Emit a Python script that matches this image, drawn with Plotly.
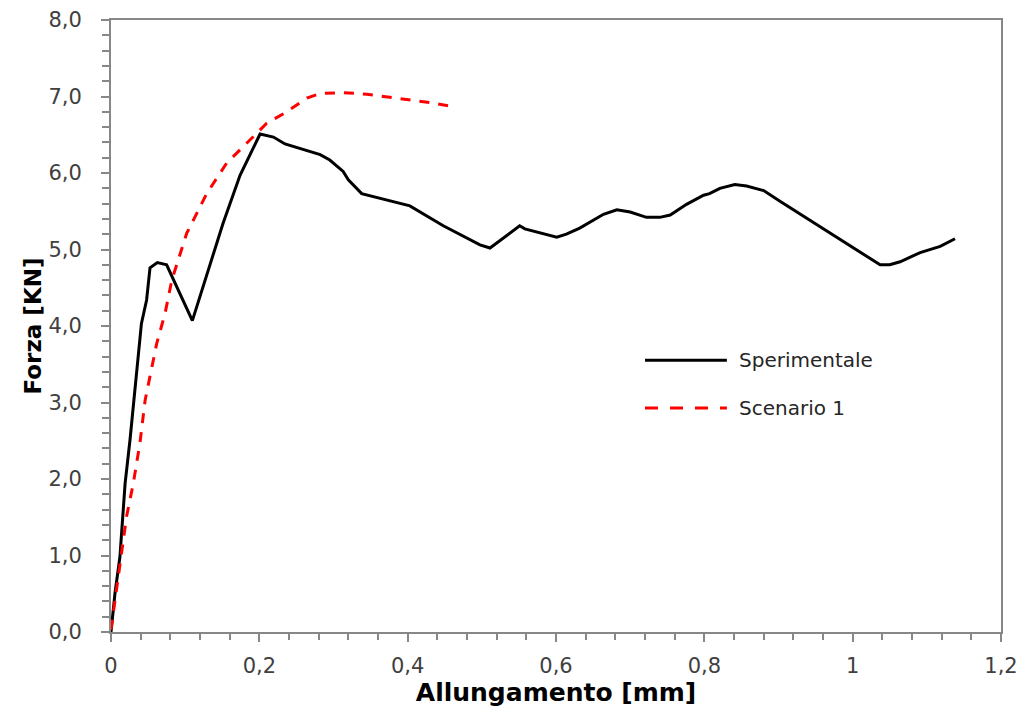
import plotly.graph_objects as go

# Sperimentale (experimental) curve
exp_x = [0.0, 0.0054, 0.012, 0.019, 0.0256, 0.030, 0.0346, 0.041, 0.048, 0.0526, 0.0625, 0.075,
         0.1097, 0.151, 0.174, 0.201, 0.219, 0.2346, 0.282, 0.295, 0.313, 0.320, 0.338, 0.403,
         0.448, 0.4975, 0.511, 0.551, 0.558, 0.601, 0.614, 0.632, 0.664, 0.682, 0.700, 0.722,
         0.740, 0.754, 0.776, 0.799, 0.807, 0.821, 0.841, 0.857, 0.880, 0.902, 1.037, 1.050,
         1.064, 1.091, 1.118, 1.138]
exp_y = [0.0, 0.51, 0.98, 1.94, 2.51, 2.95, 3.47, 4.03, 4.34, 4.76, 4.83, 4.80,
         4.07, 5.34, 5.97, 6.51, 6.47, 6.38, 6.24, 6.17, 6.02, 5.91, 5.73, 5.57,
         5.31, 5.06, 5.02, 5.31, 5.27, 5.16, 5.20, 5.28, 5.46, 5.52, 5.49, 5.42,
         5.42, 5.45, 5.59, 5.71, 5.73, 5.80, 5.85, 5.83, 5.77, 5.63, 4.80, 4.80,
         4.84, 4.96, 5.04, 5.14]

# Scenario 1 (model) curve
sc_x = [0.0, 0.012, 0.021, 0.030, 0.039, 0.046, 0.0526, 0.0616, 0.073, 0.082, 0.102, 0.129,
        0.156, 0.187, 0.21, 0.237, 0.264, 0.282, 0.313, 0.345, 0.376, 0.403, 0.43, 0.459]
sc_y = [0.03, 0.85, 1.51, 1.94, 2.47, 3.03, 3.34, 3.77, 4.17, 4.60, 5.21, 5.73,
        6.13, 6.43, 6.65, 6.80, 6.98, 7.04, 7.05, 7.03, 6.99, 6.96, 6.92, 6.87]

x_tickvals = [0, 0.2, 0.4, 0.6, 0.8, 1.0, 1.2]
x_ticktext = ["0", "0,2", "0,4", "0,6", "0,8", "1", "1,2"]
y_tickvals = [0, 1, 2, 3, 4, 5, 6, 7, 8]
y_ticktext = ["0,0", "1,0", "2,0", "3,0", "4,0", "5,0", "6,0", "7,0", "8,0"]

series_names = ["Sperimentale", "Scenario 1"]

FONT = "DejaVu Sans, Liberation Sans, Arial, sans-serif"
AXIS_COLOR = "#878787"
TICK_FONT_COLOR = "#404040"

fig = go.Figure()
fig.add_trace(go.Scatter(x=exp_x, y=exp_y, mode="lines", name=series_names[0],
                         line=dict(color="black", width=3), showlegend=False))
fig.add_trace(go.Scatter(x=sc_x, y=sc_y, mode="lines", name=series_names[1],
                         line=dict(color="#ff0000", width=3, dash="10px,9px"), showlegend=False))

axis_common = dict(
    showgrid=False, zeroline=False, showline=True, linecolor=AXIS_COLOR, linewidth=2,
    mirror=True, ticks="outside", tickcolor=AXIS_COLOR, tickwidth=2, ticklen=8,
    tickfont=dict(family=FONT, size=21, color=TICK_FONT_COLOR),
    automargin=False,
)

fig.update_xaxes(range=[0, 1.2], tickvals=x_tickvals, ticktext=x_ticktext,
                 minor=dict(dtick=0.04, tick0=0, ticks="outside", ticklen=6,
                            tickcolor=AXIS_COLOR, tickwidth=2),
                 title=dict(text="<b>Allungamento [mm]</b>", standoff=0,
                            font=dict(family=FONT, size=25, color="black")),
                 ticklabelstandoff=6,
                 **axis_common)
fig.update_yaxes(range=[0, 8], tickvals=y_tickvals, ticktext=y_ticktext,
                 minor=dict(dtick=0.2, tick0=0, ticks="outside", ticklen=7,
                            tickcolor=AXIS_COLOR, tickwidth=2),
                 title=dict(text="<b>Forza [KN]</b>", standoff=0,
                            font=dict(family=FONT, size=23, color="black")),
                 ticklabelstandoff=15,
                 **axis_common)

# Legend drawn as lines + labels in paper coordinates
legend_items = [
    dict(name=series_names[0], y=0.444, color="black", dash="solid"),
    dict(name=series_names[1], y=0.366, color="#ff0000", dash="dash"),
]
for it in legend_items:
    fig.add_shape(type="line", xref="paper", yref="paper", x0=0.600, x1=0.692,
                  y0=it["y"], y1=it["y"],
                  line=dict(color=it["color"], width=3,
                            dash="solid" if it["dash"] == "solid" else "13px,12px"))
    fig.add_annotation(xref="paper", yref="paper", x=0.703, y=it["y"], text=it["name"],
                       showarrow=False, xanchor="left", yanchor="middle",
                       font=dict(family=FONT, size=20, color="#262626"))

# page body has an 8px default margin, so margins are offset accordingly
fig.update_layout(
    width=1029, height=716,
    margin=dict(l=103, r=36, t=12, b=92),
    plot_bgcolor="white", paper_bgcolor="white",
    font=dict(family=FONT),
    showlegend=False,
)

fig.write_html("out.html")
